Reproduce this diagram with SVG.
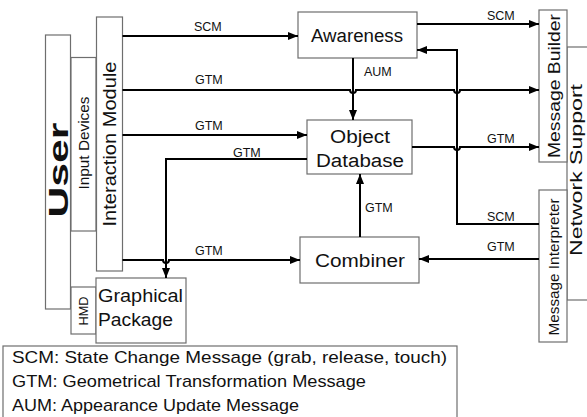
<svg xmlns="http://www.w3.org/2000/svg" width="587" height="417" viewBox="0 0 587 417">
<style>
.box{fill:#fff;stroke:#6e6e6e;stroke-width:1.2}
.t{font-family:"Liberation Sans",Arial,sans-serif;fill:#111}
.lbl{font-family:"Liberation Sans",Arial,sans-serif;font-size:12.5px;fill:#111}
.c{fill:none;stroke:#000;stroke-width:2}
</style>
<defs>
<marker id="ah" viewBox="0 0 10 8" refX="10" refY="4" markerWidth="10" markerHeight="8" markerUnits="userSpaceOnUse" orient="auto">
<path d="M0,0 L10,4 L0,8 Z" fill="#000"/>
</marker>
</defs>
<rect width="587" height="417" fill="#fff"/>

<g id="network-support"><rect class="box" x="567" y="47" width="30" height="253"/>
<text class="t" font-size="16" text-anchor="middle" transform="translate(582,170) rotate(-90)" textLength="172" lengthAdjust="spacingAndGlyphs">Network Support</text></g>

<g id="user"><rect class="box" x="45.5" y="35" width="25" height="274"/>
<text class="t" font-size="27" font-weight="bold" text-anchor="middle" transform="translate(68,170) rotate(-90)" textLength="95" lengthAdjust="spacingAndGlyphs">User</text></g>

<g id="input-devices"><rect class="box" x="71" y="57.5" width="25" height="173.5"/>
<text class="t" font-size="14.5" text-anchor="middle" transform="translate(89,143) rotate(-90)" textLength="93" lengthAdjust="spacingAndGlyphs">Input Devices</text></g>

<g id="hmd"><rect class="box" x="71" y="287" width="25" height="47"/>
<text class="t" font-size="13.5" text-anchor="middle" transform="translate(88,311) rotate(-90)" textLength="29" lengthAdjust="spacingAndGlyphs">HMD</text></g>

<g id="interaction-module"><rect class="box" x="96.5" y="17" width="26" height="254"/>
<text class="t" font-size="18" text-anchor="middle" transform="translate(116,144) rotate(-90)" textLength="165" lengthAdjust="spacingAndGlyphs">Interaction Module</text></g>

<g id="graphical-package"><rect class="box" x="96" y="278" width="90" height="65"/>
<text class="t" font-size="17.5" x="98" y="302" textLength="85" lengthAdjust="spacingAndGlyphs">Graphical</text>
<text class="t" font-size="17.5" x="98" y="326" textLength="75" lengthAdjust="spacingAndGlyphs">Package</text></g>

<g id="awareness"><rect class="box" x="298" y="12" width="119" height="46"/>
<text class="t" font-size="18" x="357" y="42" text-anchor="middle" textLength="92" lengthAdjust="spacingAndGlyphs">Awareness</text></g>

<g id="object-database"><rect class="box" x="307" y="120" width="105" height="54"/>
<text class="t" font-size="18" x="360" y="143" text-anchor="middle" textLength="60" lengthAdjust="spacingAndGlyphs">Object</text>
<text class="t" font-size="18" x="360" y="167" text-anchor="middle" textLength="88" lengthAdjust="spacingAndGlyphs">Database</text></g>

<g id="combiner"><rect class="box" x="300" y="237" width="119" height="46"/>
<text class="t" font-size="18" x="360" y="267" text-anchor="middle" textLength="90" lengthAdjust="spacingAndGlyphs">Combiner</text></g>

<g id="message-builder"><rect class="box" x="539" y="10" width="28" height="152"/>
<text class="t" font-size="17" text-anchor="middle" transform="translate(560,86) rotate(-90)" textLength="144" lengthAdjust="spacingAndGlyphs">Message Builder</text></g>

<g id="message-interpreter"><rect class="box" x="539" y="190" width="28" height="152"/>
<text class="t" font-size="15" text-anchor="middle" transform="translate(559,267) rotate(-90)" textLength="137" lengthAdjust="spacingAndGlyphs">Message Interpreter</text></g>

<g id="connectors">
<path class="c" d="M122.5,36 H298" marker-end="url(#ah)"/>
<path class="c" d="M122.5,90 H350 a3,3 0 0 0 6,0 H454 a3,3 0 0 0 6,0 H539" marker-end="url(#ah)"/>
<path class="c" d="M122.5,135 H307" marker-end="url(#ah)"/>
<path class="c" d="M307,159 H166 V278" marker-end="url(#ah)"/>
<path class="c" d="M122.5,260 H163 a3,3 0 0 0 6,0 H300" marker-end="url(#ah)"/>
<path class="c" d="M353,58 V120" marker-end="url(#ah)"/>
<path class="c" d="M417,24 H539" marker-end="url(#ah)"/>
<path class="c" d="M412,147 H454 a3,3 0 0 0 6,0 H539" marker-end="url(#ah)"/>
<path class="c" d="M539,224 H457 V50 H417" marker-end="url(#ah)"/>
<path class="c" d="M539,259 H419" marker-end="url(#ah)"/>
<path class="c" d="M360,237 V174" marker-end="url(#ah)"/>
<text class="lbl" x="194" y="31">SCM</text>
<text class="lbl" x="195" y="84">GTM</text>
<text class="lbl" x="195" y="130">GTM</text>
<text class="lbl" x="233" y="157">GTM</text>
<text class="lbl" x="195" y="255">GTM</text>
<text class="lbl" x="364" y="76">AUM</text>
<text class="lbl" x="487" y="20">SCM</text>
<text class="lbl" x="487" y="143">GTM</text>
<text class="lbl" x="487" y="221">SCM</text>
<text class="lbl" x="487" y="251">GTM</text>
<text class="lbl" x="365" y="212">GTM</text>
</g>

<g id="legend"><rect class="box" x="3" y="346" width="454" height="80"/>
<text class="t" font-size="17" x="12" y="363" textLength="435" lengthAdjust="spacingAndGlyphs">SCM: State Change Message (grab, release, touch)</text>
<text class="t" font-size="17" x="12" y="387" textLength="354" lengthAdjust="spacingAndGlyphs">GTM: Geometrical Transformation Message</text>
<text class="t" font-size="17" x="12" y="411" textLength="287" lengthAdjust="spacingAndGlyphs">AUM: Appearance Update Message</text></g>
</svg>
